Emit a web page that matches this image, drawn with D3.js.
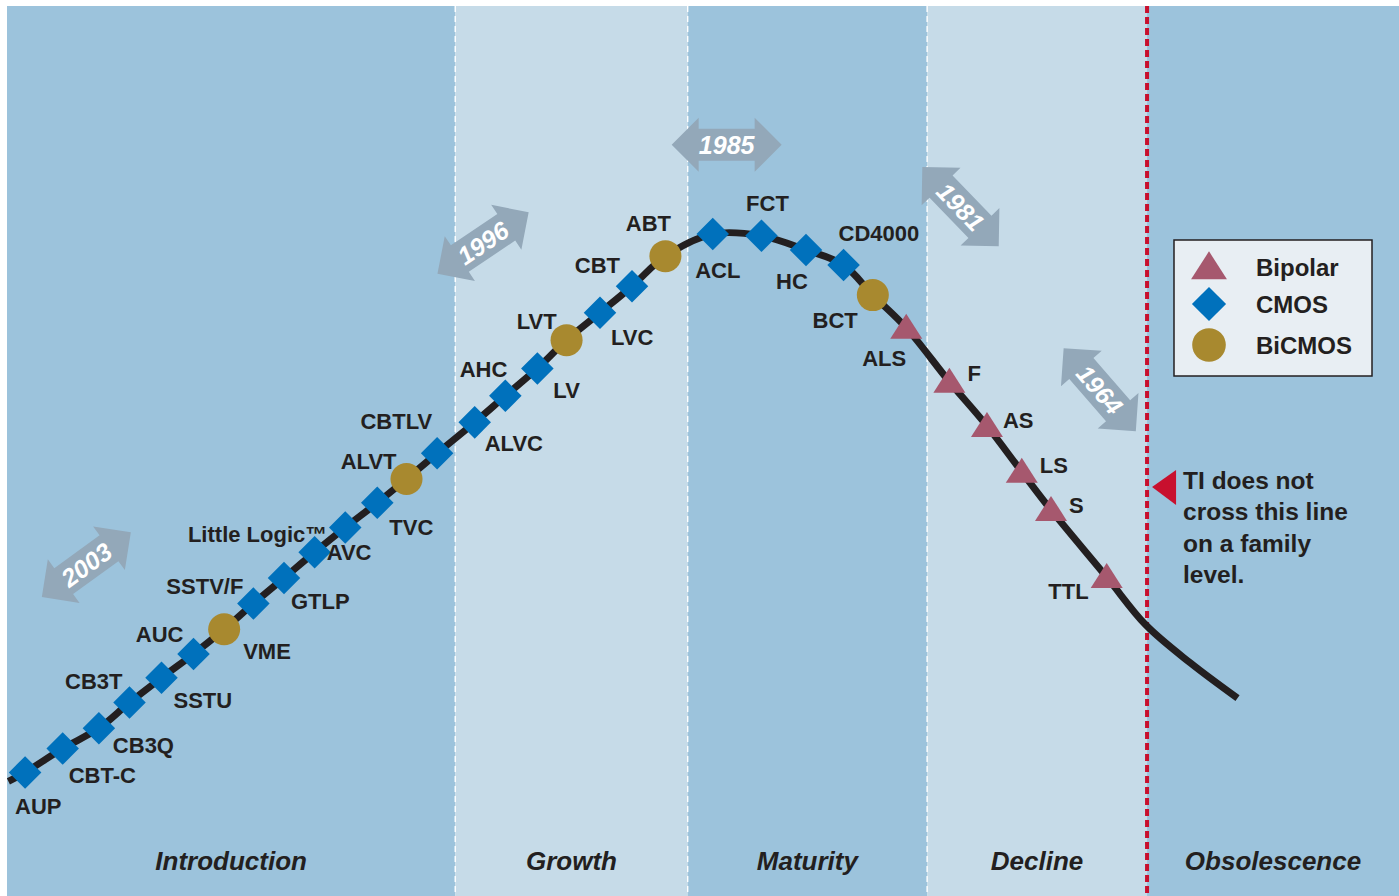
<!DOCTYPE html>
<html>
<head>
<meta charset="utf-8">
<script src="https://cdn.jsdelivr.net/npm/d3@7"></script>
<style>
  html, body { margin: 0; padding: 0; background: #fff; }
  svg { display: block; font-family: "Liberation Sans", Arial, sans-serif; }
</style>
</head>
<body>
<svg id="chart" width="1399" height="896"></svg>
<script>
// phases of the product life cycle (boundaries in % of the lifecycle axis)
const phaseNames = ['Introduction', 'Growth', 'Maturity', 'Decline', 'Obsolescence'];
const phaseStart = [0, 32.2, 48.9, 66.1, 81.9];
const phaseEnd = [32.2, 48.9, 66.1, 81.9, 100];

// logic families on the curve
const familyNames = ['AUP', 'CBT-C', 'CB3Q', 'CB3T', 'SSTU', 'AUC', 'VME', 'SSTV/F', 'GTLP', 'AVC',
  'Little Logic™', 'TVC', 'ALVT', 'CBTLV', 'ALVC', 'AHC', 'LV', 'LVT', 'LVC', 'CBT', 'ABT',
  'ACL', 'FCT', 'HC', 'CD4000', 'BCT', 'ALS', 'F', 'AS', 'LS', 'S', 'TTL'];
const familyTech = ['CMOS', 'CMOS', 'CMOS', 'CMOS', 'CMOS', 'CMOS', 'BiCMOS', 'CMOS', 'CMOS', 'CMOS',
  'CMOS', 'CMOS', 'BiCMOS', 'CMOS', 'CMOS', 'CMOS', 'CMOS', 'BiCMOS', 'CMOS', 'CMOS', 'BiCMOS',
  'CMOS', 'CMOS', 'CMOS', 'CMOS', 'BiCMOS', 'Bipolar', 'Bipolar', 'Bipolar', 'Bipolar', 'Bipolar', 'Bipolar'];
// position along the lifecycle (%) and relative volume (%)
const familyPos = [1.3, 4.0, 6.6, 8.8, 11.1, 13.4, 15.6, 17.7, 19.9, 22.1,
  24.3, 26.6, 28.7, 30.9, 33.6, 35.8, 38.1, 40.2, 42.6, 44.9, 47.3,
  50.7, 54.2, 57.4, 60.1, 62.2, 64.6, 67.7, 70.4, 72.9, 75.0, 79.0];
const familyVol = [13.3, 16.0, 18.3, 21.2, 24.0, 26.7, 29.5, 32.4, 35.3, 38.2,
  41.0, 43.8, 46.5, 49.4, 52.9, 55.9, 59.0, 62.2, 65.3, 68.3, 71.7,
  74.2, 74.0, 72.4, 70.7, 67.3, 63.6, 57.5, 52.5, 47.3, 43.0, 35.4];

// curve ends beyond the families
const tailPos = [0.1, 81.8, 85.0, 88.4];
const tailVol = [12.3, 30.0, 25.7, 21.7];

// year arrows (introduction year of the family generation)
const arrowYears = ['2003', '1996', '1985', '1981', '1964'];
const arrowPos = [5.7, 34.2, 51.7, 68.5, 78.5];
const arrowVol = [36.8, 73.2, 84.3, 77.3, 56.6];
const arrowAngle = [-36, -34, 0, 46, 49];

const legendItems = ['Bipolar', 'CMOS', 'BiCMOS'];
const noteLines = ['TI does not', 'cross this line', 'on a family', 'level.'];

// label placement relative to each marker
const labelLayout = {
  'AUP': [-10, 34, 'start'], 'CBT-C': [6, 27, 'start'], 'CB3Q': [14, 17, 'start'],
  'CB3T': [-7, -22, 'end'], 'SSTU': [12, 22, 'start'], 'AUC': [-10, -20, 'end'],
  'VME': [19, 22, 'start'], 'SSTV/F': [-10, -18, 'end'], 'GTLP': [7, 23, 'start'],
  'AVC': [12, 0, 'start'], 'Little Logic™': [-18, 7, 'end'], 'TVC': [12, 24, 'start'],
  'ALVT': [-10, -18, 'end'], 'CBTLV': [-5, -32, 'end'], 'ALVC': [10, 21, 'start'],
  'AHC': [2, -27, 'end'], 'LV': [16, 22, 'start'], 'LVT': [-10, -19, 'end'],
  'LVC': [11, 24, 'start'], 'CBT': [-12, -21, 'end'], 'ABT': [-17, -33, 'middle'],
  'ACL': [5, 36, 'middle'], 'FCT': [6, -33, 'middle'], 'HC': [-14, 31, 'middle'],
  'CD4000': [-5, -32, 'start'], 'BCT': [-15, 25, 'end'], 'ALS': [0, 30, 'end'],
  'F': [18, -9, 'start'], 'AS': [16, -6, 'start'], 'LS': [18, -7, 'start'],
  'S': [18, -5, 'start'], 'TTL': [-18, 14, 'end']
};

const colors = { Bipolar: '#a6586e', CMOS: '#0071bc', BiCMOS: '#a8892f' };
const bandDark = '#9cc3dc', bandLight = '#c6dbe8';
const ink = '#231f20';

const W = 1399, H = 896;
const svg = d3.select('#chart');
const x = d3.scaleLinear().domain([0, 100]).range([7, W]);
const y = d3.scaleLinear().domain([0, 100]).range([890, 6]);

// bands
const phases = phaseNames.map((name, i) => ({ name, x0: phaseStart[i], x1: phaseEnd[i], i }));
svg.append('g').selectAll('rect').data(phases).join('rect')
  .attr('x', d => x(d.x0)).attr('y', 6)
  .attr('width', d => x(d.x1) - x(d.x0)).attr('height', H - 6)
  .attr('fill', d => d.i % 2 ? bandLight : bandDark);

// white dashed separators
svg.append('g').selectAll('line').data(phases.slice(1, 4)).join('line')
  .attr('x1', d => x(d.x0)).attr('x2', d => x(d.x0))
  .attr('y1', 6).attr('y2', H)
  .attr('stroke', '#fff').attr('stroke-width', 1.4).attr('stroke-dasharray', '6,4');

// red obsolescence line
svg.append('line')
  .attr('x1', x(phaseStart[4])).attr('x2', x(phaseStart[4]))
  .attr('y1', 6).attr('y2', H)
  .attr('stroke', '#c8102e').attr('stroke-width', 4).attr('stroke-dasharray', '7,4');

// phase labels
svg.append('g').selectAll('text').data(phases).join('text')
  .attr('x', d => x((d.x0 + d.x1) / 2)).attr('y', 870)
  .attr('text-anchor', 'middle')
  .attr('font-size', 26).attr('font-weight', 'bold').attr('font-style', 'italic')
  .attr('fill', ink)
  .text(d => d.name);

// year arrows
const arrowShape = 'M-55,0 L-28,-27 L-28,-16 L28,-16 L28,-27 L55,0 L28,27 L28,16 L-28,16 L-28,27 Z';
const arrows = svg.append('g').selectAll('g').data(arrowYears).join('g')
  .attr('transform', (d, i) => `translate(${x(arrowPos[i])},${y(arrowVol[i])}) rotate(${arrowAngle[i]})`);
arrows.append('path').attr('d', arrowShape).attr('fill', '#93a8b9');
arrows.append('text')
  .attr('text-anchor', 'middle').attr('dy', '0.36em')
  .attr('font-size', 25).attr('font-weight', 'bold').attr('font-style', 'italic')
  .attr('fill', '#fff')
  .text(d => d);

// lifecycle curve
const families = familyNames.map((name, i) => ({ name, tech: familyTech[i], px: familyPos[i], vol: familyVol[i] }));
const curvePts = [[tailPos[0], tailVol[0]]]
  .concat(families.map(d => [d.px, d.vol]))
  .concat(tailPos.slice(1).map((p, i) => [p, tailVol[i + 1]]));
const line = d3.line().x(d => x(d[0])).y(d => y(d[1])).curve(d3.curveCatmullRom.alpha(0.5));
svg.append('path').attr('d', line(curvePts))
  .attr('fill', 'none').attr('stroke', ink).attr('stroke-width', 7);

// markers
function drawMarker(sel, tech, s) {
  if (tech === 'CMOS') {
    sel.append('rect').attr('x', -11.5 * s).attr('y', -11.5 * s)
      .attr('width', 23 * s).attr('height', 23 * s)
      .attr('transform', 'rotate(45)').attr('fill', colors.CMOS);
  } else if (tech === 'BiCMOS') {
    sel.append('circle').attr('r', 16 * s).attr('fill', colors.BiCMOS);
  } else {
    sel.append('path')
      .attr('d', `M0,${-14 * s} L${16 * s},${11 * s} L${-16 * s},${11 * s} Z`)
      .attr('fill', colors.Bipolar);
  }
}
const marks = svg.append('g').selectAll('g').data(families).join('g')
  .attr('transform', d => `translate(${x(d.px)},${y(d.vol)})`);
marks.each(function (d) { drawMarker(d3.select(this), d.tech, 1); });

// family labels
svg.append('g').selectAll('text').data(families).join('text')
  .attr('x', d => x(d.px) + labelLayout[d.name][0])
  .attr('y', d => y(d.vol) + labelLayout[d.name][1])
  .attr('dy', '0.36em')
  .attr('text-anchor', d => labelLayout[d.name][2])
  .attr('font-size', 22).attr('font-weight', 'bold').attr('fill', ink)
  .text(d => d.name);

// legend
const legend = svg.append('g').attr('transform', 'translate(1174,240)');
legend.append('rect').attr('width', 198).attr('height', 136)
  .attr('fill', '#e8eef3').attr('stroke', ink).attr('stroke-width', 1.5);
const li = legend.selectAll('g').data(legendItems).join('g')
  .attr('transform', (d, i) => `translate(35,${[27, 64, 105][i]})`);
li.each(function (d) { drawMarker(d3.select(this), d, d === 'Bipolar' ? 1.12 : 1.05); });
li.append('text').attr('x', 47).attr('dy', '0.36em')
  .attr('font-size', 24).attr('font-weight', 'bold').attr('fill', ink)
  .text(d => d);

// obsolescence note
const note = svg.append('g').attr('transform', `translate(${x(phaseStart[4])},0)`);
note.append('path').attr('d', 'M5,487 L29,470 L29,505 Z').attr('fill', '#c8102e');
note.append('g').selectAll('text').data(noteLines).join('text')
  .attr('x', 36).attr('y', (d, i) => 480 + i * 31.5).attr('dy', '0.36em')
  .attr('font-size', 24.5).attr('font-weight', 'bold').attr('fill', ink)
  .text(d => d);
</script>
</body>
</html>
